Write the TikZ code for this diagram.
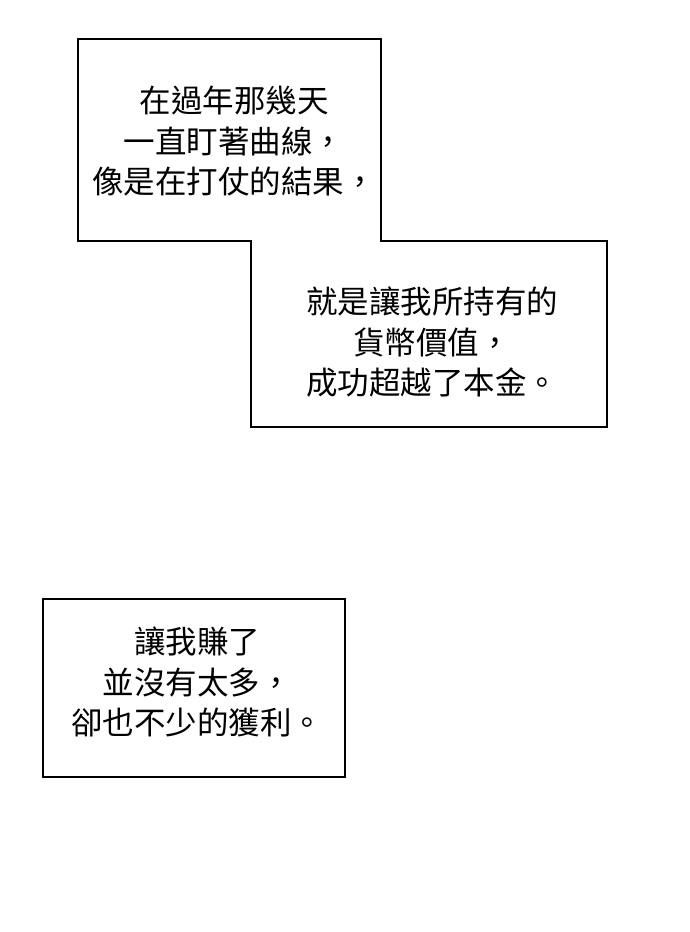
\documentclass[tikz,border=0pt]{standalone}
\usepackage{fontspec}
\newfontfamily\cjk{Noto Sans CJK TC}
\begin{document}
\begin{tikzpicture}[x=1pt,y=-1pt,
  box/.style={draw=black,line width=2pt,fill=white},
  txt/.style={align=center,font=\cjk\fontsize{31.5}{40.5}\selectfont,inner sep=0pt}]
\useasboundingbox[fill=white] (0,0) rectangle (690,932);
\draw[box] (78,39) -- (381,39) -- (381,241) -- (607,241) -- (607,427) -- (251,427) -- (251,241) -- (78,241) -- cycle;
\draw[box] (43,599) rectangle (345,777);
\node[txt] (t1) at (234,141) {在過年那幾天\\一直盯著曲線，\\像是在打仗的結果，};
\node[txt] (t2) at (432,342) {就是讓我所持有的\\貨幣價值，\\成功超越了本金。};
\node[txt] (t3) at (197,682) {讓我賺了\\並沒有太多，\\卻也不少的獲利。};
\end{tikzpicture}
\end{document}
